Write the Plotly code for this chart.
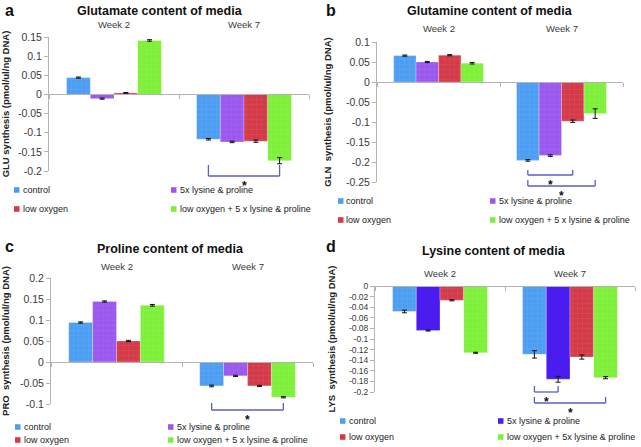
import plotly.graph_objects as go

W, H = 641, 447

# ---------------- data ----------------
weeks = ["Week 2", "Week 7"]
names = ["control", "5x lysine & proline", "low oxygen", "low oxygen + 5 x lysine & proline"]
names_d = ["control", "5x lysine & proline", "low oxygen", "low oxygen + 5x lysine & proline"]

colors = ["#4d9ef2", "#9a58ee", "#d43a48", "#7ff03a"]
colors_d = ["#4d9ef2", "#4a1cf0", "#d43a48", "#7ff03a"]

# Glutamate (a)
glu_control = [0.044, -0.117]
glu_5x = [-0.011, -0.124]
glu_lowox = [0.004, -0.122]
glu_combo = [0.141, -0.173]
glu_err_control = [0.0015, 0.002]
glu_err_5x = [0.0015, 0.002]
glu_err_lowox = [0.001, 0.003]
glu_err_combo = [0.002, 0.008]

# Glutamine (b)
gln_control = [0.066, -0.196]
gln_5x = [0.050, -0.184]
gln_lowox = [0.067, -0.098]
gln_combo = [0.047, -0.079]
gln_err_control = [0.0015, 0.002]
gln_err_5x = [0.0015, 0.002]
gln_err_lowox = [0.0015, 0.003]
gln_err_combo = [0.002, 0.012]

# Proline (c)
pro_control = [0.094, -0.057]
pro_5x = [0.144, -0.033]
pro_lowox = [0.050, -0.057]
pro_combo = [0.135, -0.084]
pro_err_control = [0.0015, 0.002]
pro_err_5x = [0.0015, 0.0015]
pro_err_lowox = [0.0015, 0.0015]
pro_err_combo = [0.002, 0.0015]

# Lysine (d)
lys_control = [-0.048, -0.129]
lys_5x = [-0.084, -0.176]
lys_lowox = [-0.027, -0.134]
lys_combo = [-0.126, -0.173]
lys_err_control = [0.0025, 0.007]
lys_err_5x = [0.001, 0.0055]
lys_err_lowox = [0.001, 0.004]
lys_err_combo = [0.001, 0.002]

# tick labels
ticks_a = [0.15, 0.1, 0.05, 0, -0.05, -0.1, -0.15, -0.2]
ticks_b = [0.1, 0.05, 0, -0.05, -0.1, -0.15, -0.2, -0.25]
ticks_c = [0.2, 0.15, 0.1, 0.05, 0, -0.05, -0.1]
ticks_d = [0, -0.02, -0.04, -0.06, -0.08, -0.1, -0.12, -0.14, -0.16, -0.18, -0.2]

FONT = "Liberation Sans, Arial, sans-serif"
AXC = "#b4b4b4"
TXT = "#3a3a3a"
BRC = "#5a5ec8"
BARGAP = 0.27


def py(p):
    return 1 - p / H


def px(p):
    return p / W


panels = [
    dict(key="a", title="Glutamate content of media", ytitle="GLU synthesis (pmol/ul/ng DNA)",
         series=[glu_control, glu_5x, glu_lowox, glu_combo],
         errs=[glu_err_control, glu_err_5x, glu_err_lowox, glu_err_combo],
         names=names, colors=colors, ticks=ticks_a, rng=[-0.2, 0.15], tickfont=10.5,
         xdom=[49, 309], ydom=[37, 171], standoff=6,
         letter=(3, 10), titlepos=(160, 11), weeky=25,
         brackets=[(0, 3, 165, 176)],
         legend=[(14, 190), (171, 190), (14, 209), (171, 209)]),
    dict(key="b", title="Glutamine content of media", ytitle="GLN  synthesis (pmol/ul/ng DNA)",
         series=[gln_control, gln_5x, gln_lowox, gln_combo],
         errs=[gln_err_control, gln_err_5x, gln_err_lowox, gln_err_combo],
         names=names, colors=colors, ticks=ticks_b, rng=[-0.25, 0.1], tickfont=10.5,
         xdom=[377, 623], ydom=[42, 182], standoff=12,
         letter=(324, 10), titlepos=(490, 11), weeky=28,
         brackets=[(0, 2, 170, 175), (0, 3, 180, 186)],
         legend=[(338, 201), (490, 201), (338, 220), (490, 220)]),
    dict(key="c", title="Proline content of media", ytitle="PRO  synthesis (pmol/ul/ng DNA)",
         series=[pro_control, pro_5x, pro_lowox, pro_combo],
         errs=[pro_err_control, pro_err_5x, pro_err_lowox, pro_err_combo],
         names=names, colors=colors, ticks=ticks_c, rng=[-0.1, 0.2], tickfont=10.5,
         xdom=[51, 313], ydom=[278, 404], standoff=8,
         letter=(3, 246), titlepos=(170, 249), weeky=266,
         brackets=[(0, 3, 403, 410)],
         legend=[(15, 427), (168, 427), (15, 440), (168, 440)]),
    dict(key="d", title="Lysine content of media", ytitle="LYS  synthesis (pmol/ul/ng DNA)",
         series=[lys_control, lys_5x, lys_lowox, lys_combo],
         errs=[lys_err_control, lys_err_5x, lys_err_lowox, lys_err_combo],
         names=names_d, colors=colors_d, ticks=ticks_d, rng=[-0.2, 0.0], tickfont=8.5,
         xdom=[375, 635], ydom=[286, 392], standoff=11,
         letter=(324, 246), titlepos=(494, 251), weeky=273,
         brackets=[(0, 1, 386, 392), (0, 3, 397, 403)],
         legend=[(340, 421), (498, 421), (340, 437), (498, 437)]),
]

fig = go.Figure()
shapes = []
annotations = []
layout_axes = {}

barw = (1 - BARGAP) / 4.0

for i, p in enumerate(panels):
    n = "" if i == 0 else str(i + 1)
    xa, ya = "x" + n, "y" + n
    ydom = [py(p["ydom"][1]), py(p["ydom"][0])]
    y0, y1 = p["rng"]
    xpos = ydom[0] + (0 - y0) / (y1 - y0) * (ydom[1] - ydom[0])
    for k in range(4):
        fig.add_trace(go.Bar(
            x=[0, 1], y=p["series"][k], name=p["names"][k], xaxis=xa, yaxis=ya,
            marker=dict(color=p["colors"][k],
                        line=dict(width=0.6, color="rgba(255,255,255,0.45)"),
                        pattern=dict(shape="" if (p["key"] == "d" and k == 1) else "+",
                                     fgcolor="rgba(255,255,255,0.3)", size=5, solidity=0.12)),
            error_y=dict(type="data", array=p["errs"][k], color="#111111", thickness=1, width=2.5),
            showlegend=False, hoverinfo="skip"))
    layout_axes["xaxis" + n] = dict(
        domain=[px(p["xdom"][0]), px(p["xdom"][1])], range=[-0.5, 1.5], anchor="free",
        position=xpos, showline=True, linecolor=AXC, linewidth=1, automargin=False,
        tickvals=[-0.5, 0.5, 1.5], ticks="outside", ticklen=4, tickcolor=AXC,
        showticklabels=False, showgrid=False, zeroline=False, fixedrange=True)
    layout_axes["yaxis" + n] = dict(
        domain=ydom, range=p["rng"], anchor=xa, showline=True, linecolor=AXC, linewidth=1,
        automargin=False,
        tickvals=p["ticks"], ticktext=[f"{v:g}" for v in p["ticks"]],
        ticks="outside", ticklen=4, tickcolor=AXC, showgrid=False, zeroline=False,
        tickfont=dict(family=FONT, size=p["tickfont"], color=TXT),
        title=dict(text=p["ytitle"], standoff=p["standoff"],
                   font=dict(family=FONT, size=9.5, color="#222222", weight="bold")),
        fixedrange=True)

    # panel letter and title
    annotations.append(dict(text="<b>%s</b>" % p["key"], x=px(p["letter"][0]), y=py(p["letter"][1]),
                            xref="paper", yref="paper", xanchor="left", yanchor="middle",
                            showarrow=False, font=dict(family=FONT, size=16, color="#111111")))
    annotations.append(dict(text="<b>%s</b>" % p["title"], x=px(p["titlepos"][0]), y=py(p["titlepos"][1]),
                            xref="paper", yref="paper", xanchor="center", yanchor="middle",
                            showarrow=False, font=dict(family=FONT, size=12.5, color="#111111")))
    # week labels above groups
    for wi, w in enumerate(weeks):
        annotations.append(dict(text=w, x=wi, y=py(p["weeky"]), xref=xa, yref="paper",
                                xanchor="center", yanchor="middle", showarrow=False,
                                font=dict(family=FONT, size=9.5, color=TXT)))
    # significance brackets (Week 7 group)
    for (b0, b1, ytop, ybot) in p["brackets"]:
        xb0 = 1 + (b0 - 1.5) * barw
        xb1 = 1 + (b1 - 1.5) * barw
        for (xs, ys, xe, ye) in [(xb0, ytop, xb0, ybot), (xb0, ybot, xb1, ybot), (xb1, ybot, xb1, ytop)]:
            shapes.append(dict(type="line", xref=xa, yref="paper", x0=xs, x1=xe,
                               y0=py(ys), y1=py(ye), line=dict(color=BRC, width=1.3)))
        annotations.append(dict(text="<b>*</b>", x=(xb0 + xb1) / 2, y=py(ybot + 2), xref=xa, yref="paper",
                                xanchor="center", yanchor="top", showarrow=False,
                                height=8, valign="top", borderpad=0,
                                font=dict(family=FONT, size=12, color="#111111")))
    # legend
    for k, (lx, ly) in enumerate(p["legend"]):
        shapes.append(dict(type="rect", xref="paper", yref="paper",
                           x0=px(lx), x1=px(lx + 5.5), y0=py(ly + 2.8), y1=py(ly - 2.8),
                           fillcolor=p["colors"][k], line=dict(width=0)))
        annotations.append(dict(text=p["names"][k], x=px(lx + 6.5), y=py(ly), xref="paper", yref="paper",
                                xanchor="left", yanchor="middle", showarrow=False,
                                font=dict(family=FONT, size=9, color="#222222")))

fig.update_layout(
    width=W, height=H, margin=dict(l=0, r=0, t=0, b=0, pad=0, autoexpand=False),
    paper_bgcolor="white", plot_bgcolor="white",
    barmode="group", bargap=BARGAP, bargroupgap=0,
    shapes=shapes, annotations=annotations, showlegend=False,
    font=dict(family=FONT),
    **layout_axes)

fig.write_html("out.html", config={"displayModeBar": False, "staticPlot": True},
               post_script="document.body.style.margin='0px';document.body.style.overflow='hidden';")
